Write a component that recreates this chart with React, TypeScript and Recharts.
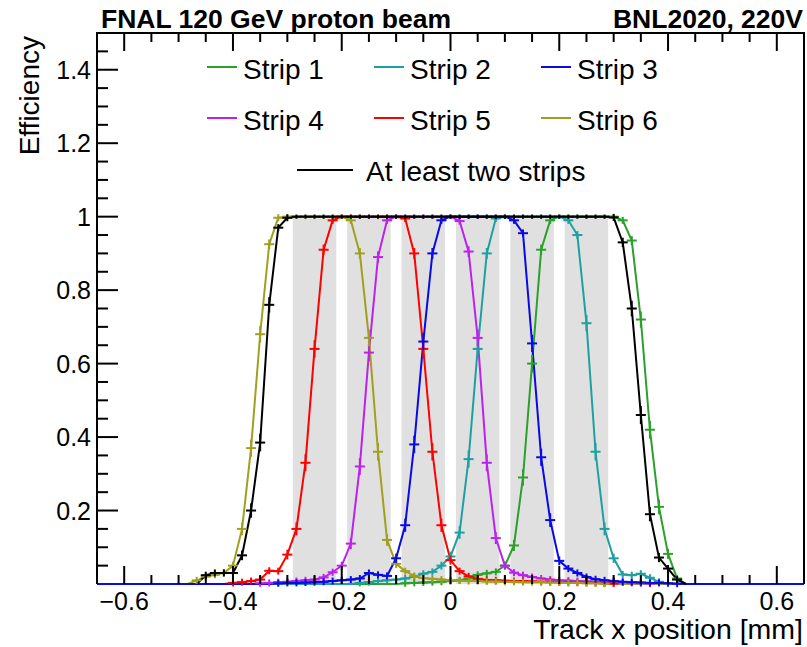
import React from "react";
import { LineChart, Line, XAxis, YAxis, ReferenceArea } from "recharts";

// ---------- data ----------
const xPositions = [
  -0.65,
  -0.5, -0.4833, -0.4667, -0.45, -0.4333, -0.4167, -0.4, -0.3833, -0.3667, -0.35,
  -0.3333, -0.3167, -0.3, -0.2833, -0.2667, -0.25, -0.2333, -0.2167, -0.2, -0.1833,
  -0.1667, -0.15, -0.1333, -0.1167, -0.1, -0.0833, -0.0667, -0.05, -0.0333, -0.0167,
  0,
  0.0167, 0.0333, 0.05, 0.0667, 0.0833, 0.1, 0.1167, 0.1333, 0.15, 0.1667,
  0.1833, 0.2, 0.2167, 0.2333, 0.25, 0.2667, 0.2833, 0.3, 0.3167, 0.3333,
  0.35, 0.3667, 0.3833, 0.4, 0.4167, 0.4333, 0.45, 0.4667, 0.4833, 0.5,
  0.65,
];

const strip1 = [
  0,
  0, 0, 0, 0, 0, 0, 0, 0, 0, 0,
  0, 0, 0, 0, 0, 0, 0, 0, 0, 0,
  0, 0, 0, 0, 0, 0.002, 0.003, 0.004, 0.005, 0.006,
  0.008,
  0.01, 0.015, 0.025, 0.029, 0.033, 0.05, 0.105, 0.29, 0.6, 0.91,
  0.99, 1, 1, 1, 1, 1, 1, 1, 0.99, 0.935,
  0.72, 0.42, 0.21, 0.082, 0.015, 0, 0, 0, 0, 0,
  0,
];

const strip2 = [
  0,
  0, 0, 0, 0, 0, 0, 0, 0, 0, 0,
  0, 0, 0, 0, 0, 0, 0, 0, 0, 0,
  0.003, 0.005, 0.008, 0.01, 0.012, 0.015, 0.02, 0.028, 0.033, 0.05,
  0.075,
  0.14, 0.34, 0.64, 0.9, 0.995, 1, 1, 1, 1, 1,
  1, 1, 0.99, 0.95, 0.71, 0.36, 0.15, 0.07, 0.026, 0.024,
  0.028, 0.017, 0.006, 0, 0, 0, 0, 0, 0, 0,
  0,
];

const strip3 = [
  0,
  0, 0, 0, 0, 0, 0, 0, 0, 0, 0,
  0, 0.002, 0.003, 0.003, 0.004, 0.005, 0.006, 0.008, 0.01, 0.012,
  0.015, 0.03, 0.025, 0.022, 0.07, 0.16, 0.38, 0.66, 0.9, 0.99,
  1,
  1, 1, 1, 1, 1, 1, 0.99, 0.955, 0.655, 0.345,
  0.174, 0.063, 0.042, 0.03, 0.019, 0.013, 0.01, 0.008, 0.006, 0.005,
  0.004, 0.003, 0.003, 0.002, 0.001, 0, 0, 0, 0, 0,
  0,
];

const strip4 = [
  0,
  0, 0, 0, 0, 0, 0, 0, 0, 0, 0.002,
  0.003, 0.005, 0.006, 0.008, 0.01, 0.012, 0.018, 0.032, 0.05, 0.11,
  0.32, 0.63, 0.89, 0.99, 1, 1, 1, 1, 1, 1,
  1,
  0.988, 0.905, 0.67, 0.33, 0.125, 0.05, 0.031, 0.024, 0.019, 0.015,
  0.012, 0.01, 0.009, 0.008, 0.007, 0.006, 0.005, 0.005, 0.004, 0.003,
  0.002, 0.001, 0, 0, 0, 0, 0, 0, 0, 0,
  0,
];

const strip5 = [
  0,
  0, 0, 0, 0, 0, 0, 0.003, 0.005, 0.008, 0.012,
  0.036, 0.035, 0.08, 0.15, 0.33, 0.64, 0.91, 0.99, 1, 1,
  1, 1, 1, 1, 1, 0.995, 0.9, 0.64, 0.36, 0.16,
  0.065,
  0.035, 0.021, 0.014, 0.011, 0.01, 0.009, 0.008, 0.008, 0.007, 0.006,
  0.006, 0.005, 0.005, 0.004, 0.004, 0.003, 0.002, 0.001, 0, 0,
  0, 0, 0, 0, 0, 0, 0, 0, 0, 0,
  0,
];

const strip6 = [
  0,
  0, 0, 0.01, 0.02, 0.025, 0.03, 0.05, 0.15, 0.37, 0.68,
  0.925, 0.997, 1, 1, 1, 1, 1, 1, 1, 0.99,
  0.9, 0.67, 0.36, 0.12, 0.055, 0.035, 0.022, 0.016, 0.014, 0.012,
  0.01,
  0.009, 0.008, 0.008, 0.007, 0.007, 0.006, 0.006, 0.005, 0.005, 0.005,
  0.004, 0.004, 0.003, 0.003, 0.002, 0.002, 0.001, 0, 0, 0,
  0, 0, 0, 0, 0, 0, 0, 0, 0, 0,
  0,
];

const atLeastTwo = [
  null,
  null, null, 0, 0.024, 0.03, 0.03, 0.03, 0.078, 0.2, 0.385,
  0.76, 0.97, 0.997, 1, 1, 1, 1, 1, 1, 1,
  1, 1, 1, 1, 1, 1, 1, 1, 1, 1,
  1,
  1, 1, 1, 1, 1, 1, 1, 1, 1, 1,
  1, 1, 1, 1, 1, 1, 1, 0.998, 0.93, 0.75,
  0.46, 0.19, 0.072, 0.042, 0.012, 0, null, null, null, null,
  null,
];

const bandStarts = [-0.29, -0.19, -0.09, 0.01, 0.11, 0.21];
const bandEnds = [-0.21, -0.11, -0.01, 0.09, 0.19, 0.29];

const xMajorTicks = [-0.6, -0.4, -0.2, 0, 0.2, 0.4, 0.6];
const xTickLabels = ["\u22120.6", "\u22120.4", "\u22120.2", "0", "0.2", "0.4", "0.6"];
const xMinorTicks = [-0.55, -0.5, -0.45, -0.35, -0.3, -0.25, -0.15, -0.1, -0.05, 0.05, 0.1, 0.15, 0.25, 0.3, 0.35, 0.45, 0.5, 0.55];
const yMajorTicks = [0.2, 0.4, 0.6, 0.8, 1.0, 1.2, 1.4];
const yTickLabels = ["0.2", "0.4", "0.6", "0.8", "1", "1.2", "1.4"];
const yMinorTicks = [0.05, 0.1, 0.15, 0.25, 0.3, 0.35, 0.45, 0.5, 0.55, 0.65, 0.7, 0.75, 0.85, 0.9, 0.95, 1.05, 1.1, 1.15, 1.25, 1.3, 1.35, 1.45];

const seriesKeys = ["s1", "s2", "s3", "s4", "s5", "s6", "all"];
const seriesNames = ["Strip 1", "Strip 2", "Strip 3", "Strip 4", "Strip 5", "Strip 6", "At least two strips"];
const seriesColors = ["#2ca02c", "#1fa0a0", "#0a0ae6", "#bb22ee", "#ff0000", "#a0a020", "#000000"];
const seriesValues = [strip1, strip2, strip3, strip4, strip5, strip6, atLeastTwo];
const drawOrder = [0, 1, 3, 4, 5, 2, 6];

const rows = xPositions.map((x, i) => {
  const r: any = { x };
  seriesKeys.forEach((k, j) => {
    r[k] = seriesValues[j][i];
  });
  return r;
});

// ---------- layout ----------
const W = 807;
const H = 647;
const PLOT = { left: 97, right: 804, top: 33, bottom: 584 };
const AX = 1; // thickness reserved by each axis
const FONT = "'Liberation Sans', Arial, Helvetica, sans-serif";

const isMajor = (list: number[], v: number) => list.findIndex((m) => Math.abs(m - v) < 1e-6);

const BottomTick = (props: any) => {
  const { x, payload } = props;
  const idx = isMajor(xMajorTicks, payload.value);
  const len = idx >= 0 ? 18 : 9;
  return (
    <g>
      <line x1={x} x2={x} y1={PLOT.bottom} y2={PLOT.bottom - len} stroke="#000" strokeWidth={2} />
      {idx >= 0 && (
        <text x={x} y={610} textAnchor="middle" fontSize={25} fontFamily={FONT} fill="#000">
          {xTickLabels[idx]}
        </text>
      )}
    </g>
  );
};

const TopTick = (props: any) => {
  const { x, payload } = props;
  const idx = isMajor(xMajorTicks, payload.value);
  const len = idx >= 0 ? 18 : 9;
  return <line x1={x} x2={x} y1={PLOT.top} y2={PLOT.top + len} stroke="#000" strokeWidth={2} />;
};

const LeftTick = (props: any) => {
  const { y, payload } = props;
  const idx = isMajor(yMajorTicks, payload.value);
  const len = idx >= 0 ? 21 : 11;
  return (
    <g>
      <line x1={PLOT.left} x2={PLOT.left + len} y1={y} y2={y} stroke="#000" strokeWidth={2} />
      {idx >= 0 && (
        <text x={91} y={y + 9} textAnchor="end" fontSize={25} fontFamily={FONT} fill="#000">
          {yTickLabels[idx]}
        </text>
      )}
    </g>
  );
};

const RightTick = (props: any) => {
  const { y, payload } = props;
  const idx = isMajor(yMajorTicks, payload.value);
  const len = idx >= 0 ? 21 : 11;
  return <line x1={PLOT.right} x2={PLOT.right - len} y1={y} y2={y} stroke="#000" strokeWidth={2} />;
};

const makeCross = (color: string) => (props: any) => {
  const { cx, cy, value, index } = props;
  const v = Array.isArray(value) ? value[1] : value;
  if (cx == null || cy == null || v == null || v <= 0) return <g key={`e-${index}`} />;
  const half = v >= 1 ? 2 : Math.max(3.5, 18 * Math.sqrt(Math.max(0, v * (1 - v))));
  return (
    <g key={`e-${index}`}>
      <line x1={cx - 5} x2={cx + 5} y1={cy} y2={cy} stroke={color} strokeWidth={2} />
      <line x1={cx} x2={cx} y1={cy - half} y2={cy + half} stroke={color} strokeWidth={2} />
    </g>
  );
};

const xTicksAll = [...xMinorTicks, ...xMajorTicks];
const yTicksAll = [...yMinorTicks, ...yMajorTicks];

const legendRows = [
  { y: 67, items: [0, 1, 2], cols: [207, 374, 541], lineLen: 30 },
  { y: 118, items: [3, 4, 5], cols: [207, 374, 541], lineLen: 30 },
];

export default function App() {
  return (
    <div style={{ position: "absolute", left: 0, top: 0, width: W, height: H, background: "#fff" }}>
      <LineChart
        width={W}
        height={H}
        data={rows}
        margin={{
          top: PLOT.top - AX,
          right: W - PLOT.right - AX,
          bottom: H - PLOT.bottom - AX,
          left: PLOT.left - AX,
        }}
      >
        <XAxis
          xAxisId="b"
          type="number"
          dataKey="x"
          domain={[-0.65, 0.65]}
          ticks={xTicksAll}
          interval={0}
          tick={(p: any) => <BottomTick {...p} />}
          tickLine={false}
          axisLine={false}
          height={AX}
        />
        <XAxis
          xAxisId="t"
          orientation="top"
          type="number"
          dataKey="x"
          domain={[-0.65, 0.65]}
          ticks={xTicksAll}
          interval={0}
          tick={(p: any) => <TopTick {...p} />}
          tickLine={false}
          axisLine={false}
          height={AX}
        />
        <YAxis
          yAxisId="l"
          type="number"
          domain={[0, 1.5]}
          ticks={yTicksAll}
          interval={0}
          tick={(p: any) => <LeftTick {...p} />}
          tickLine={false}
          axisLine={false}
          width={AX}
        />
        <YAxis
          yAxisId="r"
          orientation="right"
          type="number"
          domain={[0, 1.5]}
          ticks={yTicksAll}
          interval={0}
          tick={(p: any) => <RightTick {...p} />}
          tickLine={false}
          axisLine={false}
          width={AX}
        />
        {bandStarts.map((s, i) => (
          <ReferenceArea
            key={`band-${i}`}
            xAxisId="b"
            yAxisId="l"
            x1={s}
            x2={bandEnds[i]}
            y1={0}
            y2={1}
            fill="#e0e0e0"
            fillOpacity={1}
            stroke="none"
          />
        ))}
        {drawOrder.map((j) => (
          <Line
            key={seriesKeys[j]}
            xAxisId="b"
            yAxisId="l"
            type="linear"
            dataKey={seriesKeys[j]}
            name={seriesNames[j]}
            stroke={seriesColors[j]}
            strokeWidth={2}
            dot={makeCross(seriesColors[j])}
            activeDot={false}
            isAnimationActive={false}
            connectNulls={false}
          />
        ))}
      </LineChart>
      <svg
        width={W}
        height={H}
        style={{ position: "absolute", left: 0, top: 0, pointerEvents: "none" }}
      >
        <polyline
          points={`${PLOT.left},${PLOT.bottom} ${PLOT.left},${PLOT.top} ${PLOT.right},${PLOT.top} ${PLOT.right},${PLOT.bottom}`}
          fill="none"
          stroke="#000"
          strokeWidth={2}
        />
        <text x={101} y={28} fontSize={26.5} fontWeight="bold" fontFamily={FONT} fill="#000">
          FNAL 120 GeV proton beam
        </text>
        <text x={803} y={28} fontSize={26.5} fontWeight="bold" fontFamily={FONT} fill="#000" textAnchor="end">
          BNL2020, 220V
        </text>
        <text
          transform="translate(39,36) rotate(-90)"
          textAnchor="end"
          fontSize={28}
          fontFamily={FONT}
          fill="#000"
        >
          Efficiency
        </text>
        <text x={803} y={639} textAnchor="end" fontSize={28.5} fontFamily={FONT} fill="#000">
          Track x position [mm]
        </text>
        {legendRows.map((row, ri) =>
          row.items.map((j, ci) => (
            <g key={`lg-${ri}-${ci}`}>
              <line
                x1={row.cols[ci]}
                x2={row.cols[ci] + row.lineLen}
                y1={row.y}
                y2={row.y}
                stroke={seriesColors[j]}
                strokeWidth={2}
              />
              <text x={row.cols[ci] + row.lineLen + 6} y={row.y + 12} fontSize={28} fontFamily={FONT} fill="#000">
                {seriesNames[j]}
              </text>
            </g>
          ))
        )}
        <line x1={297} x2={353} y1={170} y2={170} stroke={seriesColors[6]} strokeWidth={2} />
        <text x={366} y={181} fontSize={28} fontFamily={FONT} fill="#000">
          {seriesNames[6]}
        </text>
      </svg>
    </div>
  );
}
